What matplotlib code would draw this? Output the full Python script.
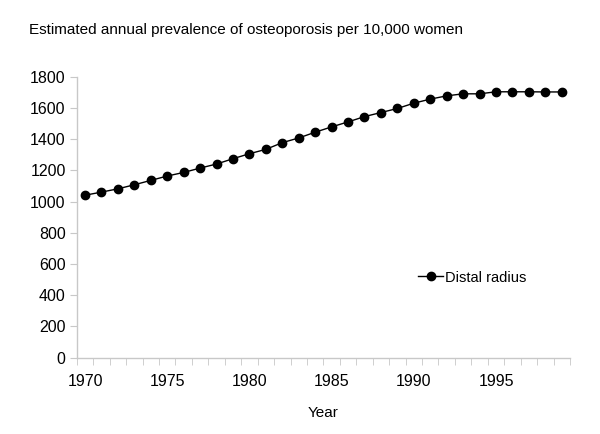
import matplotlib
matplotlib.use("Agg")
import matplotlib.pyplot as plt
import numpy as np

plt.rcParams['font.family'] = ['Liberation Sans', 'DejaVu Sans']

# estimated annual prevalence per 10,000 women, distal radius
years = list(range(1970, 2000))
distal_radius = [1041, 1061, 1082, 1108, 1136, 1164, 1187, 1215, 1241, 1275,
                 1307, 1335, 1378, 1408, 1445, 1479, 1511, 1545, 1571, 1597,
                 1631, 1657, 1678, 1691, 1691, 1704, 1704, 1704, 1703, 1703]
xtick_years = [1970, 1975, 1980, 1985, 1990, 1995]
yticks = list(range(0, 2000, 200))

grey = '#c8c8c8'

fig = plt.figure(figsize=(6.0, 4.34), dpi=100)
ax = fig.add_axes([0.128, 0.176, 0.822, 0.647])

ax.plot(years, distal_radius, color='black', lw=1.0, marker='o',
        markersize=6, label='Distal radius')

ax.set_xlim(years[0] - 0.5, years[-1] + 0.5)
ax.set_ylim(0, 1800)
ax.set_yticks(yticks)
ax.set_xticks(xtick_years)
ax.set_xticks(np.arange(years[0] - 0.5, years[-1] + 1.0, 1.0), minor=True)

for side in ['top', 'right']:
    ax.spines[side].set_visible(False)
for side in ['left', 'bottom']:
    ax.spines[side].set_color(grey)
    ax.spines[side].set_linewidth(1.0)

ax.tick_params(axis='y', which='major', direction='out', length=5,
               color=grey, labelsize=11.5, pad=3)
ax.tick_params(axis='x', which='major', length=0, labelsize=11.5, pad=12)
ax.tick_params(axis='x', which='minor', direction='out', length=5,
               color=grey)

ax.set_xlabel('Year', fontsize=11, labelpad=12)
fig.text(0.048, 0.93, 'Estimated annual prevalence of osteoporosis per 10,000 women',
         fontsize=11, ha='left', va='center')

ax.legend(loc='center left', bbox_to_anchor=(0.665, 0.285), frameon=False,
          fontsize=10.5, handlelength=1.75, handletextpad=0.1)

fig.savefig('out.png', dpi=100)
